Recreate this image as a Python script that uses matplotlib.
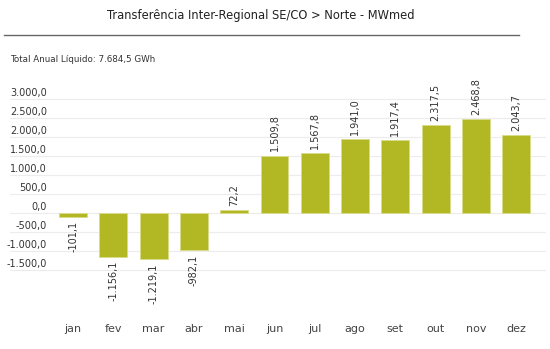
import matplotlib
matplotlib.use("Agg")
import matplotlib.pyplot as plt
from matplotlib.lines import Line2D
from matplotlib.transforms import blended_transform_factory

months = ["jan", "fev", "mar", "abr", "mai", "jun",
          "jul", "ago", "set", "out", "nov", "dez"]
values = [-101.1, -1156.1, -1219.1, -982.1, 72.2, 1509.8,
          1567.8, 1941.0, 1917.4, 2317.5, 2468.8, 2043.7]
y_ticks = [3000, 2500, 2000, 1500, 1000, 500, 0, -500, -1000, -1500]
title = "Transferência Inter-Regional SE/CO > Norte - MWmed"
subtitle = "Total Anual Líquido: 7.684,5 GWh"

W, H = 550, 349


def br(v):
    s = f"{v:,.1f}"
    return s.replace(",", "#").replace(".", ",").replace("#", ".")


def fx(px):
    return px / W


def fy(py):
    return 1 - py / H


fig = plt.figure(figsize=(5.5, 3.49), dpi=100)
fig.patch.set_facecolor("white")

# axes: x from 10 to 546 px, y from 90 to 280 px
ax_top, ax_bot = 90, 280
ax = fig.add_axes([fx(10), fy(ax_bot), fx(546 - 10), (ax_bot - ax_top) / H])
px_per_unit = 19 / 500
ax.set_ylim(-1500 - (ax_bot - 270) / px_per_unit, 3000 + (99 - ax_top) / px_per_unit)
ax.set_xlim(-1.565, 11.74)
ax.axis("off")

for t in y_ticks:
    ax.axhline(t, color="#ececec", lw=0.8, zorder=0)

x = list(range(len(months)))
ax.bar(x, values, width=0.69, color="#b2b823", edgecolor="#d9dc8a",
       linewidth=0.7, zorder=2)

for xi, v in zip(x, values):
    ax.annotate(br(v), (xi, v), xytext=(0, 3 if v >= 0 else -3),
                textcoords="offset points", rotation=90,
                ha="center", va="bottom" if v >= 0 else "top",
                fontsize=7, color="#333333")

# y tick labels sit above their grid lines
for t in y_ticks:
    ax.annotate(br(t), (0, t), xycoords=("figure fraction", "data"),
                xytext=(47 * 72 / 100, 1), textcoords="offset points",
                ha="right", va="bottom", fontsize=7, color="#333333")

month_tr = blended_transform_factory(ax.transData, fig.transFigure)
for xi, m in zip(x, months):
    ax.text(xi, fy(329), m, transform=month_tr, fontsize=8,
            color="#444444", ha="center", va="center")

fig.text(fx(261), fy(16), title, ha="center", va="center",
         fontsize=8.3, color="#222222")
fig.add_artist(Line2D([fx(4), fx(519)], [fy(35), fy(35)],
                      color="#666666", lw=1))
fig.text(fx(10), fy(59), subtitle, ha="left", va="center",
         fontsize=6.3, color="#333333")

fig.savefig("out.png", dpi=100, facecolor="white")
